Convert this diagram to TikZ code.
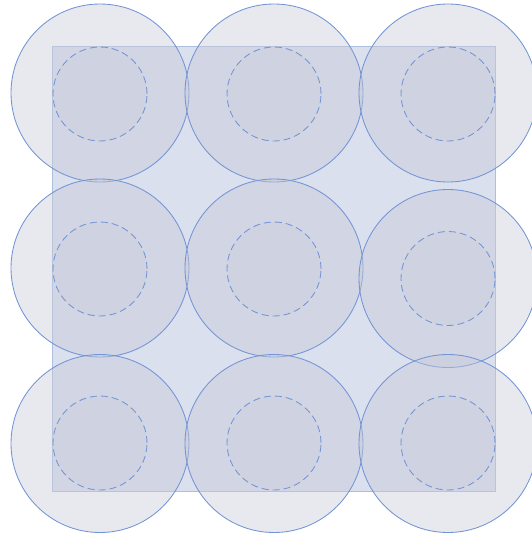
\documentclass[tikz,border=0pt]{standalone}
\usepackage{tikz}
\definecolor{sqfill}{HTML}{DAE0EE}
\definecolor{sqedge}{HTML}{AFBEDC}
\definecolor{cfill}{HTML}{C8CAD8}
\definecolor{cedge}{HTML}{7394D4}
\tikzset{
  outerc/.style={circle, minimum size=178pt, inner sep=0pt, fill=cfill, fill opacity=0.42, draw=cedge, draw opacity=1, line width=0.85pt},
  innerc/.style={circle, minimum size=94pt, inner sep=0pt, fill=cfill, fill opacity=0.28, draw=cedge, draw opacity=1, line width=0.85pt, dash pattern=on 7pt off 4pt},
  sq/.style={rectangle, inner sep=0pt, minimum width=443pt, minimum height=445pt, fill=sqfill, draw=sqedge, line width=0.8pt}
}
\begin{document}
\begin{tikzpicture}[x=1pt,y=-1pt]
\useasboundingbox (0,0) rectangle (532,535);
\node[sq] (square) at (273.5,268.5) {};
\node[outerc] (o11) at (100,93) {};
\node[outerc] (o12) at (274,93) {};
\node[outerc] (o13) at (448,93) {};
\node[outerc] (o21) at (100,268) {};
\node[outerc] (o22) at (274,268) {};
\node[outerc] (o23) at (448,278.5) {};
\node[outerc] (o31) at (100,443.5) {};
\node[outerc] (o32) at (274,443.5) {};
\node[outerc] (o33) at (448,443.5) {};
\node[innerc] (i11) at (100,94) {};
\node[innerc] (i12) at (274,94) {};
\node[innerc] (i13) at (448,94) {};
\node[innerc] (i21) at (100,269) {};
\node[innerc] (i22) at (274,269) {};
\node[innerc] (i23) at (448,278.5) {};
\node[innerc] (i31) at (100,443) {};
\node[innerc] (i32) at (274,443) {};
\node[innerc] (i33) at (448,443) {};
\end{tikzpicture}
\end{document}
